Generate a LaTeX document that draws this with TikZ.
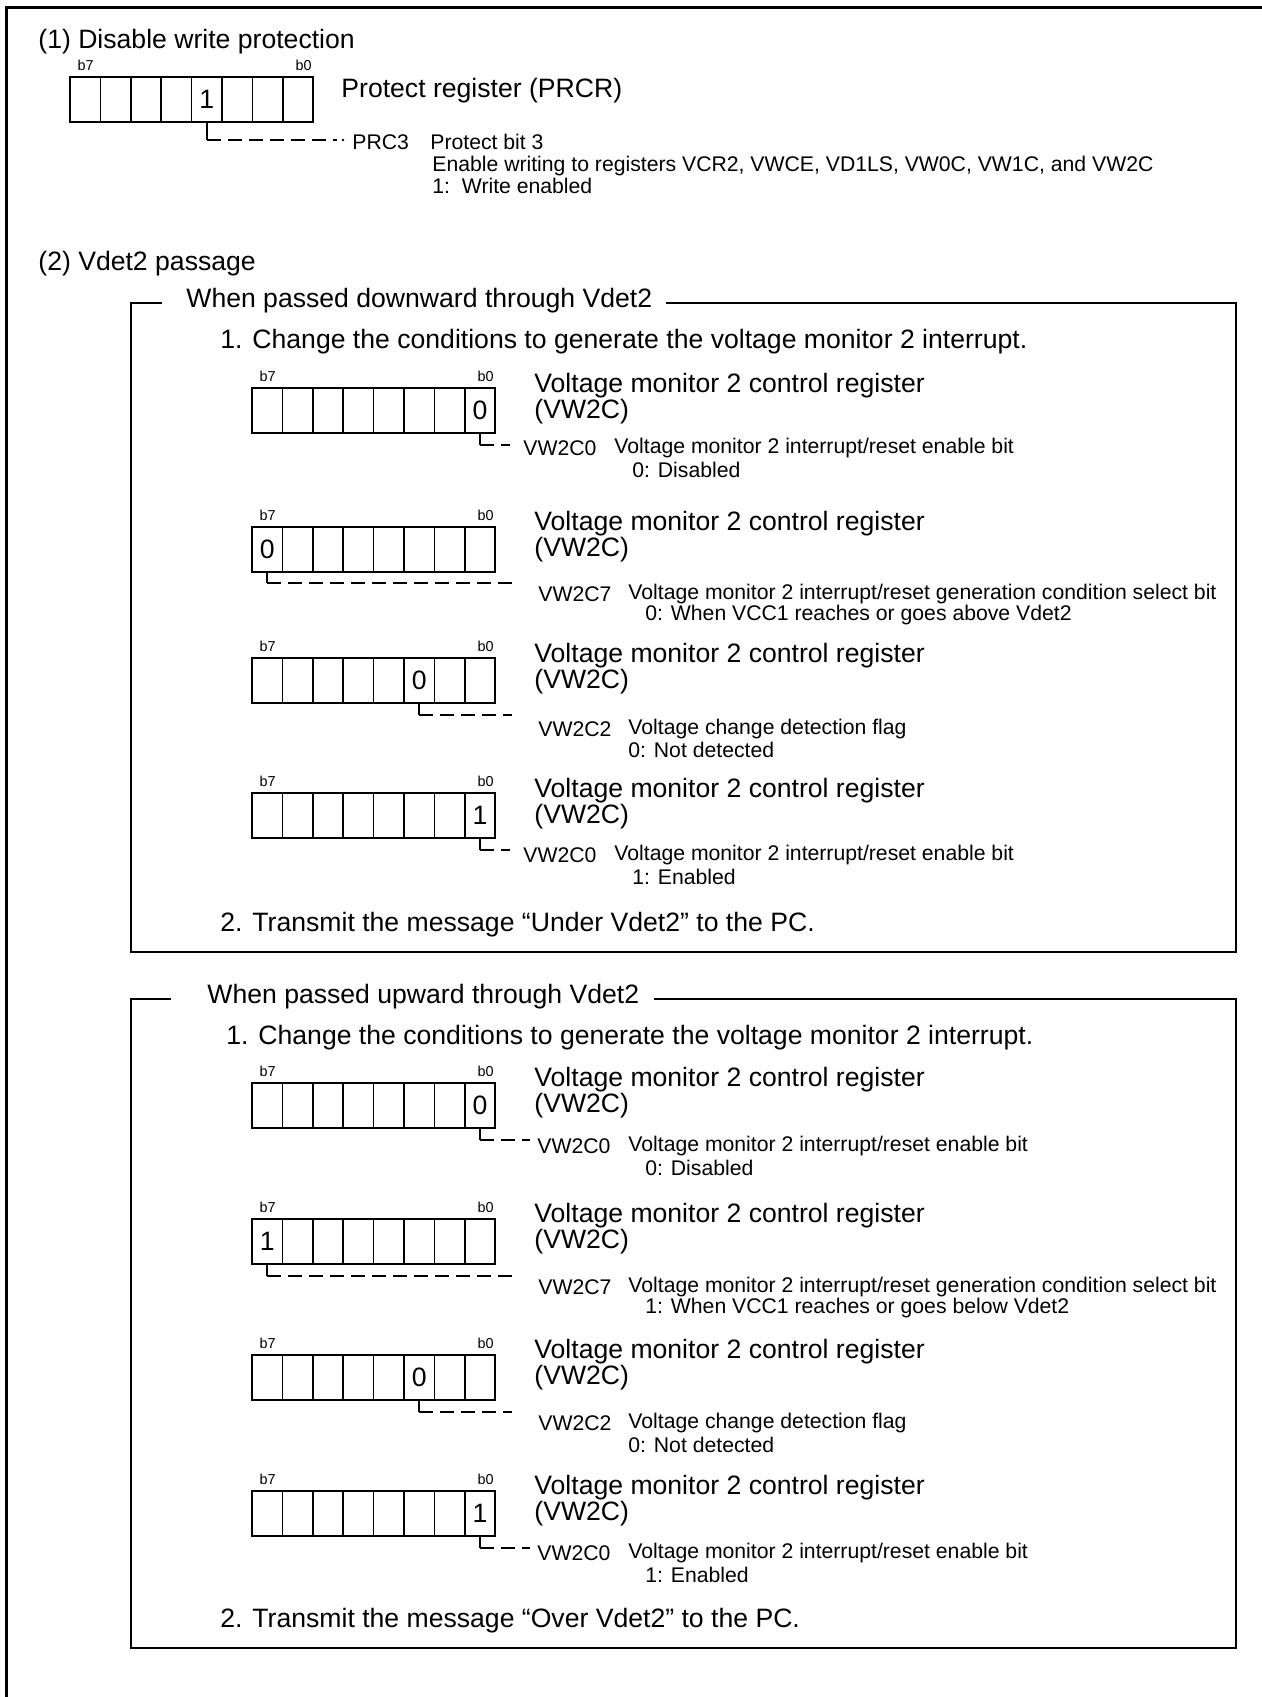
\documentclass[tikz,border=0pt]{standalone}
\usepackage{fontspec}
\setmainfont{Liberation Sans}
\usepackage{tikz}
\usetikzlibrary{calc}

\tikzset{
	panel/.style={line width=1pt},
	bitcell/.style={draw, line width=0.75pt, minimum width=15.2pt, minimum height=22.5pt, inner sep=0pt, font=\fontsize{13.3}{13}\selectfont},
	bitnum/.style={font=\fontsize{7.2}{8}\selectfont, inner sep=0pt},
	bigtext/.style={font=\fontsize{13.3}{13}\selectfont, anchor=west, inner sep=0pt, align=left},
	smalltext/.style={font=\fontsize{10.6}{10.5}\selectfont, anchor=west, inner sep=0pt},
	leadline/.style={line width=1.25pt},
	leaddash/.style={line width=1.25pt, dash pattern=on 7pt off 3.5pt}
}

% register: name, left x, top y, bit that is set, value
\newcommand{\bitreg}[5]{%
	\foreach \b in {0,...,7}
		\node[bitcell] (#1-\b) at ({#2+(7-\b)*30.4+15.2},{#3+22.5}) {\ifnum\b=#4\relax #5\fi};
	\node[bitnum, anchor=base west] (#1-b7) at ([xshift=4pt,yshift=3pt]#1-7.north west) {b7};
	\node[bitnum, anchor=base east] (#1-b0) at ([xshift=-1pt,yshift=3pt]#1-0.north east) {b0};
}

\begin{document}
\begin{tikzpicture}[x=0.5pt,y=-0.5pt]

	\useasboundingbox (0,0) rectangle (1262,1697);
	\draw[line width=1.5pt] (6,1710) -- (6,7) -- (1275,7);

	% (1)
	\node[bigtext] (sec1) at (38,42) {(1) Disable write protection};
	\bitreg{prcr}{70}{77}{3}{1}
	\node[bigtext] (prcr-name) at (341,91) {Protect register (PRCR)};
	\coordinate (prcr-end) at (337,140);
	\draw[leadline] (prcr-3.south) -- (prcr-3.south |- prcr-end);
	\draw[leaddash] (prcr-3.south |- prcr-end) -- (prcr-end);
	\fill (343,140) circle (0.7pt);
	\node[smalltext] (prc3) at (352,142) {PRC3};
	\node[smalltext] (prc3-d1) at (430,142) {Protect bit 3};
	\node[smalltext] (prc3-d2) at (432,166) {Enable writing to registers VCR2, VWCE, VD1LS, VW0C, VW1C, and VW2C};
	\node[smalltext] (prc3-d3) at (432,186) {1:\ \ Write enabled};

	% (2)
	\node[bigtext] (sec2) at (38,264) {(2) Vdet2 passage};

	% downward
	\node[bigtext] (down-title) at (186,301) {When passed downward through Vdet2};
	\coordinate (down-nw) at (131,303);
	\coordinate (down-se) at (1236,952);
	\coordinate (down-r) at ([xshift=6.5pt]down-title.east);
	\draw[panel] (down-r |- down-nw) -- (down-se |- down-nw) -- (down-se) -- (down-nw |- down-se) -- (down-nw) -- (162,303);
	\node[bigtext] (down-step1) at (220,342) {1. Change the conditions to generate the voltage monitor 2 interrupt.};

	\bitreg{ra}{252}{388}{0}{0}
	\node[bigtext] (ra-name) at (534,399) {Voltage monitor 2 control register\\(VW2C)};
	\coordinate (ra-end) at (510,445);
	\draw[leadline] (ra-0.south) -- (ra-0.south |- ra-end);
	\draw[leaddash] (ra-0.south |- ra-end) -- (ra-end);
	\node[smalltext] (ra-bit) at (523,448) {VW2C0};
	\node[smalltext] (ra-d1) at (614,448) {Voltage monitor 2 interrupt/reset enable bit};
	\node[smalltext] (ra-d2) at (632,470) {0: Disabled};

	\bitreg{rb}{252}{527}{7}{0}
	\node[bigtext] (rb-name) at (534,537) {Voltage monitor 2 control register\\(VW2C)};
	\coordinate (rb-end) at (512,583);
	\draw[leadline] (rb-7.south) -- (rb-7.south |- rb-end);
	\draw[leaddash] (rb-7.south |- rb-end) -- (rb-end);
	\node[smalltext] (rb-bit) at (538,594) {VW2C7};
	\node[smalltext] (rb-d1) at (628,594) {Voltage monitor 2 interrupt/reset generation condition select bit};
	\node[smalltext] (rb-d2) at (645,615) {0: When VCC1 reaches or goes above Vdet2};

	\bitreg{rc}{252}{658}{2}{0}
	\node[bigtext] (rc-name) at (534,669) {Voltage monitor 2 control register\\(VW2C)};
	\coordinate (rc-end) at (512,715);
	\draw[leadline] (rc-2.south) -- (rc-2.south |- rc-end);
	\draw[leaddash] (rc-2.south |- rc-end) -- (rc-end);
	\node[smalltext] (rc-bit) at (538,729) {VW2C2};
	\node[smalltext] (rc-d1) at (628,729) {Voltage change detection flag};
	\node[smalltext] (rc-d2) at (628,750) {0: Not detected};

	\bitreg{rd}{252}{793}{0}{1}
	\node[bigtext] (rd-name) at (534,804) {Voltage monitor 2 control register\\(VW2C)};
	\coordinate (rd-end) at (510,850);
	\draw[leadline] (rd-0.south) -- (rd-0.south |- rd-end);
	\draw[leaddash] (rd-0.south |- rd-end) -- (rd-end);
	\node[smalltext] (rd-bit) at (523,855) {VW2C0};
	\node[smalltext] (rd-d1) at (614,855) {Voltage monitor 2 interrupt/reset enable bit};
	\node[smalltext] (rd-d2) at (632,877) {1: Enabled};

	\node[bigtext] (down-step2) at (220,925) {2. Transmit the message “Under Vdet2” to the PC.};

	% upward
	\node[bigtext] (up-title) at (207,997) {When passed upward through Vdet2};
	\coordinate (up-nw) at (131,999);
	\coordinate (up-se) at (1236,1648);
	\coordinate (up-r) at ([xshift=7pt]up-title.east);
	\draw[panel] (up-r |- up-nw) -- (up-se |- up-nw) -- (up-se) -- (up-nw |- up-se) -- (up-nw) -- (171,999);
	\node[bigtext] (up-step1) at (226,1038) {1. Change the conditions to generate the voltage monitor 2 interrupt.};

	\bitreg{re}{252}{1083}{0}{0}
	\node[bigtext] (re-name) at (534,1093) {Voltage monitor 2 control register\\(VW2C)};
	\coordinate (re-end) at (530,1140);
	\draw[leadline] (re-0.south) -- (re-0.south |- re-end);
	\draw[leaddash] (re-0.south |- re-end) -- (re-end);
	\node[smalltext] (re-bit) at (537,1146) {VW2C0};
	\node[smalltext] (re-d1) at (628,1146) {Voltage monitor 2 interrupt/reset enable bit};
	\node[smalltext] (re-d2) at (645,1168) {0: Disabled};

	\bitreg{rf}{252}{1219}{7}{1}
	\node[bigtext] (rf-name) at (534,1229) {Voltage monitor 2 control register\\(VW2C)};
	\coordinate (rf-end) at (512,1276);
	\draw[leadline] (rf-7.south) -- (rf-7.south |- rf-end);
	\draw[leaddash] (rf-7.south |- rf-end) -- (rf-end);
	\node[smalltext] (rf-bit) at (538,1287) {VW2C7};
	\node[smalltext] (rf-d1) at (628,1287) {Voltage monitor 2 interrupt/reset generation condition select bit};
	\node[smalltext] (rf-d2) at (645,1308) {1: When VCC1 reaches or goes below Vdet2};

	\bitreg{rg}{252}{1355}{2}{0}
	\node[bigtext] (rg-name) at (534,1365) {Voltage monitor 2 control register\\(VW2C)};
	\coordinate (rg-end) at (512,1412);
	\draw[leadline] (rg-2.south) -- (rg-2.south |- rg-end);
	\draw[leaddash] (rg-2.south |- rg-end) -- (rg-end);
	\node[smalltext] (rg-bit) at (538,1423) {VW2C2};
	\node[smalltext] (rg-d1) at (628,1423) {Voltage change detection flag};
	\node[smalltext] (rg-d2) at (628,1445) {0: Not detected};

	\bitreg{rh}{252}{1491}{0}{1}
	\node[bigtext] (rh-name) at (534,1501) {Voltage monitor 2 control register\\(VW2C)};
	\coordinate (rh-end) at (530,1548);
	\draw[leadline] (rh-0.south) -- (rh-0.south |- rh-end);
	\draw[leaddash] (rh-0.south |- rh-end) -- (rh-end);
	\node[smalltext] (rh-bit) at (537,1553) {VW2C0};
	\node[smalltext] (rh-d1) at (628,1553) {Voltage monitor 2 interrupt/reset enable bit};
	\node[smalltext] (rh-d2) at (645,1575) {1: Enabled};

	\node[bigtext] (up-step2) at (220,1621) {2. Transmit the message “Over Vdet2” to the PC.};

\end{tikzpicture}
\end{document}
